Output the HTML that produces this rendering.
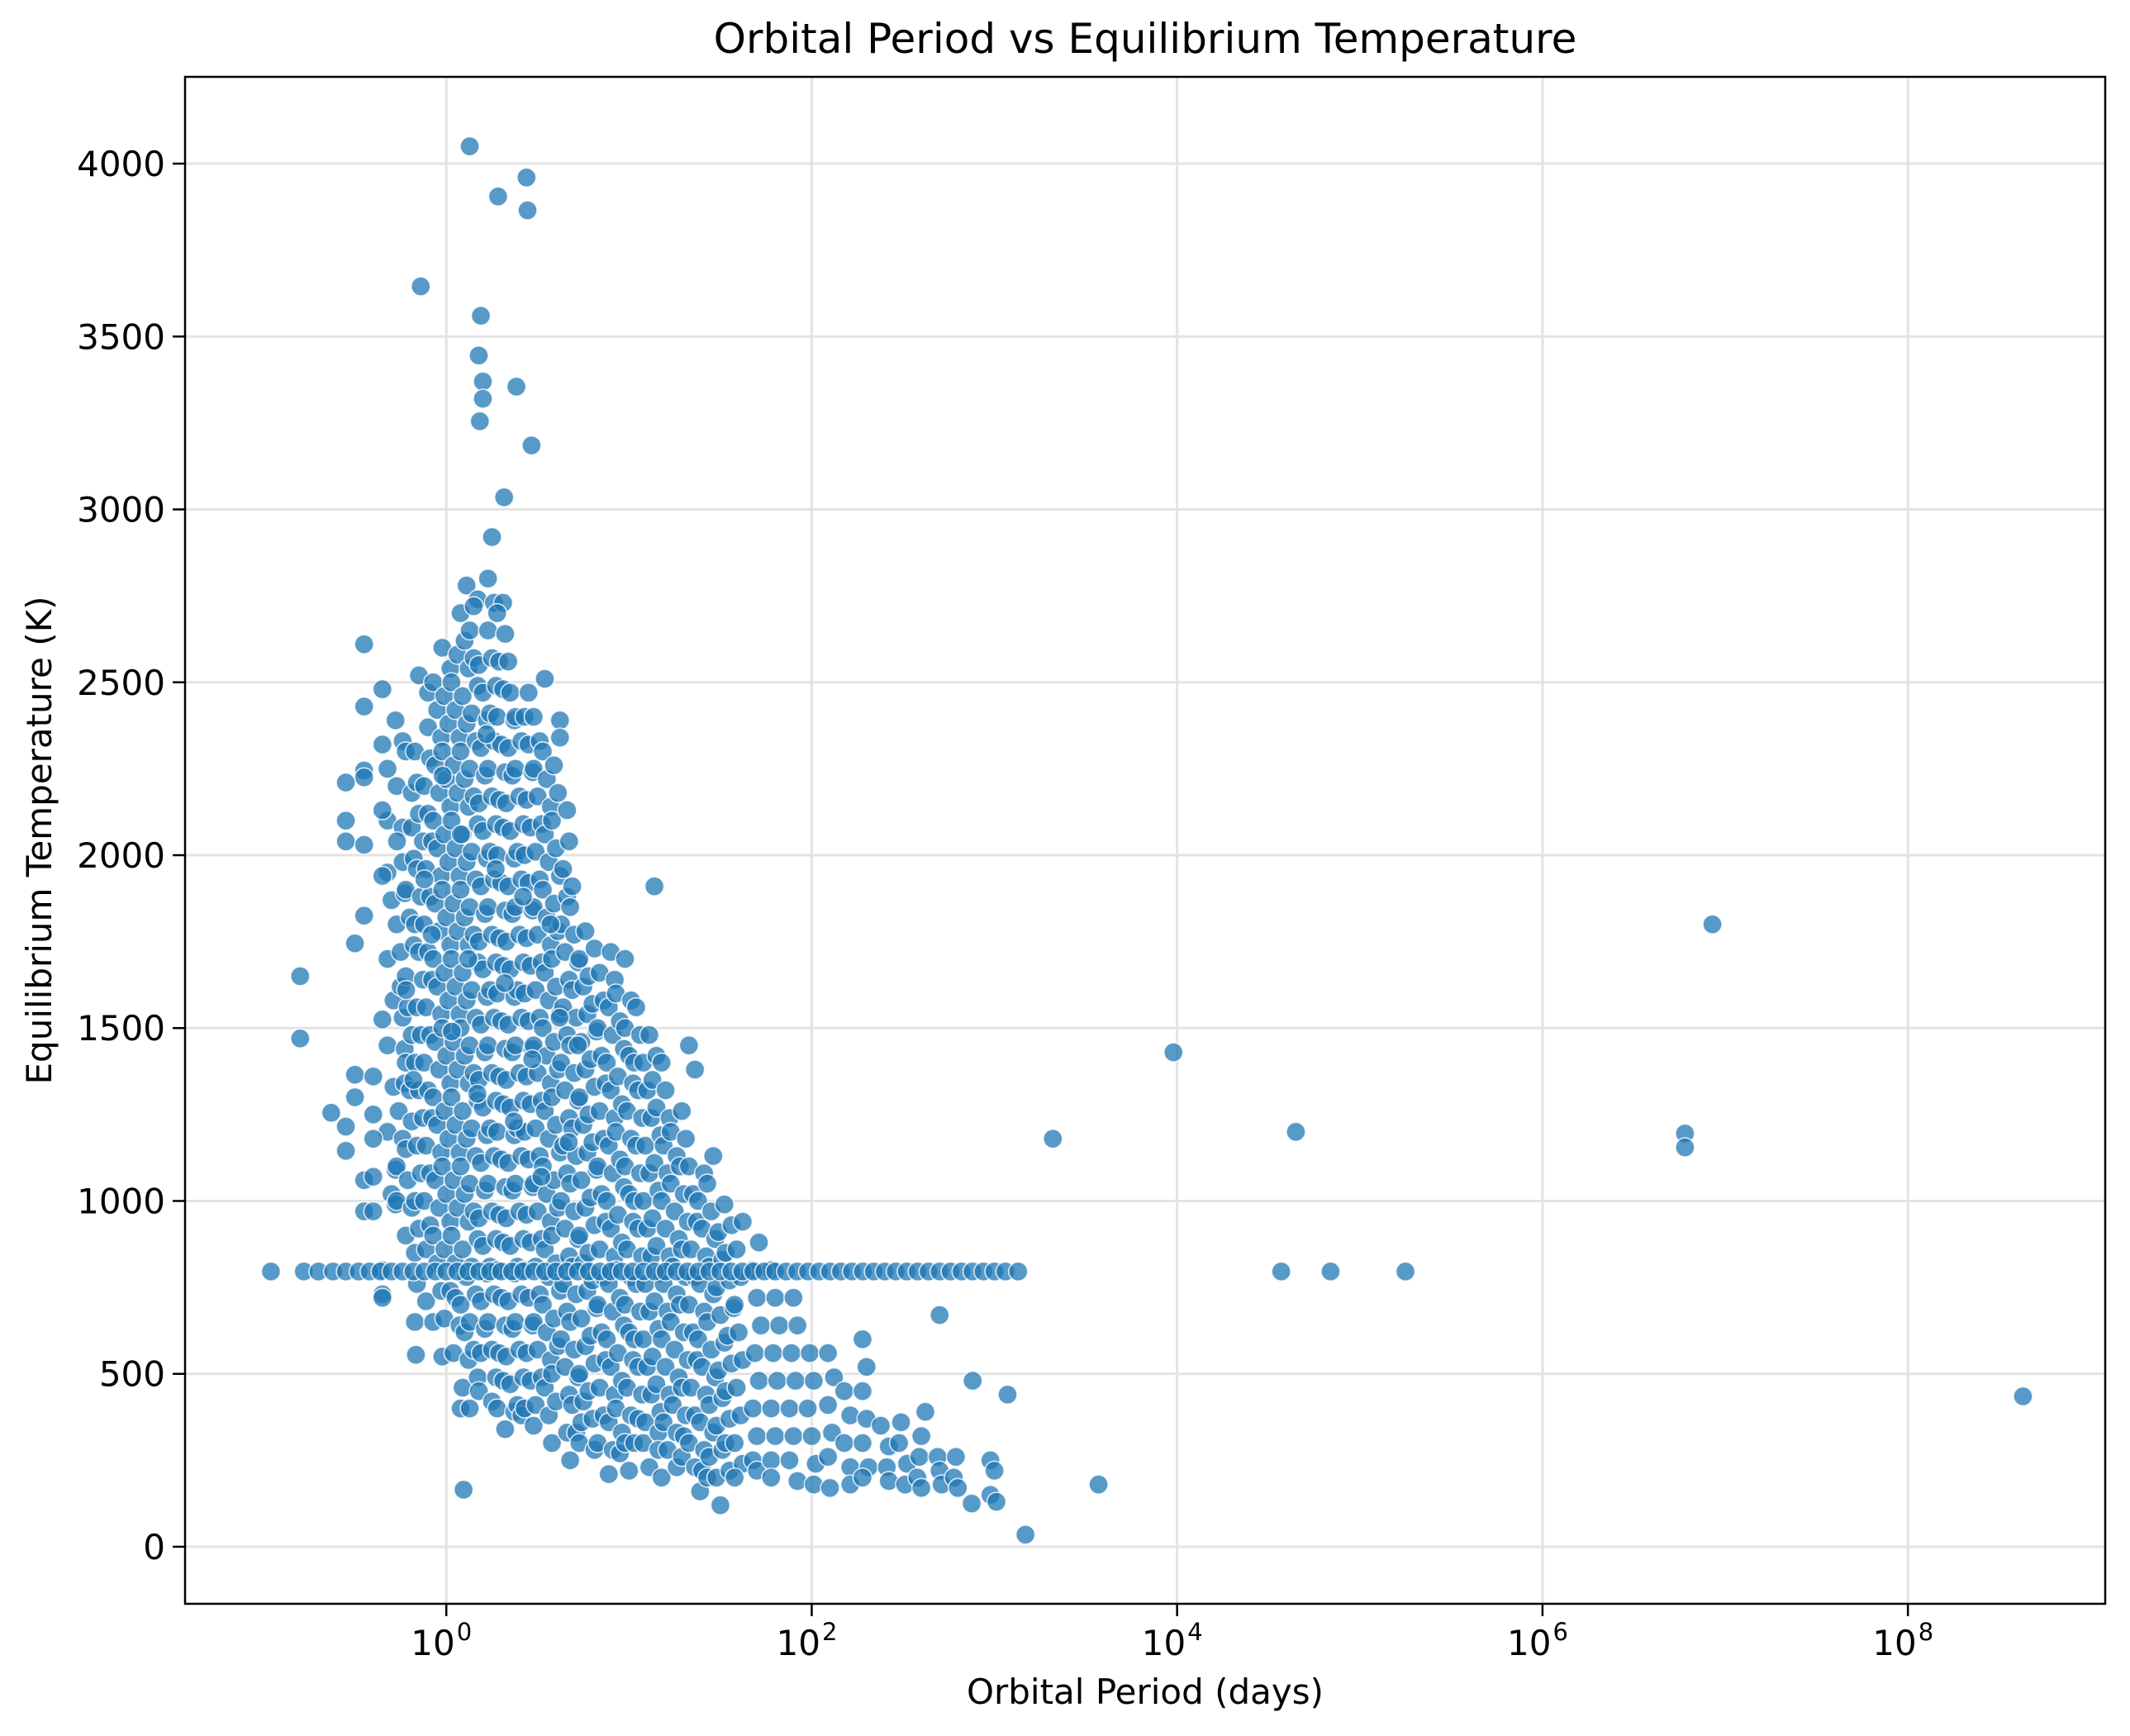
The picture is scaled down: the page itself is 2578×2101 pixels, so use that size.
<!DOCTYPE html>
<html><head><meta charset="utf-8">
<style>
html,body{margin:0;padding:0;background:#fff;}
svg{display:block;}
text{font-family:"DejaVu Sans","Liberation Sans",sans-serif;fill:#000;}
</style></head>
<body>
<svg id="chart" width="2578" height="2101" viewBox="0 0 2578 2101" xmlns="http://www.w3.org/2000/svg">
<rect width="2578" height="2101" fill="#fff"/>
<g id="grid"></g>
<g id="points"></g>
<rect x="224" y="93" width="2324" height="1848" fill="none" stroke="#000" stroke-width="2.5"/>
<g id="ticks"></g>
<text x="1386" y="64" font-size="50" text-anchor="middle">Orbital Period vs Equilibrium Temperature</text>
<text x="1386" y="2062" font-size="42" text-anchor="middle">Orbital Period (days)</text>
<text x="0" y="0" font-size="42" text-anchor="middle" transform="translate(62,1017) rotate(-90)">Equilibrium Temperature (K)</text>
</svg>
<script>
// log10 of orbital period (days) for dense columns
const colLogP = [-0.3,-0.25,-0.2,-0.15,-0.1,-0.05,0,0.05,0.1,0.15,0.2,0.25,0.3,0.35,0.4,0.45,0.5,0.55,0.6,0.65,0.7,0.75,0.8,0.85,0.9,0.95,1.0,1.05,1.1,1.15,1.2,1.25,1.3,1.35,1.4,1.45,1.5,1.55,1.6,1.7,1.8,1.9,2.0,2.1,2.2,2.3,2.4,2.5,2.6,2.7,2.8,2.87,3.0,3.05];
const colTemps = [
[2390,2250,2100,1950,1870,1700,1580,1450,1330,1200,1090,1020,990],
[2330,2200,2080,1980,1890,1800,1720,1620,1530,1440,1340,1260,1180,1100,1000],
[2300,2180,2080,1990,1900,1820,1740,1650,1560,1480,1400,1320,1230,1150,1060,980,900],
[2520,2300,2210,2120,2040,1960,1880,1800,1720,1640,1560,1480,1400,1320,1240,1160,1080,1000,920,850,760,650,555],
[2470,2370,2280,2200,2120,2040,1960,1880,1800,1720,1640,1560,1480,1400,1320,1240,1160,1080,1000,930,860,710],
[2500,2420,2340,2260,2180,2100,2020,1940,1860,1780,1700,1620,1540,1460,1380,1300,1220,1140,1060,980,900,820,740,650],
[2600,2540,2460,2380,2300,2220,2140,2060,1980,1900,1820,1740,1660,1580,1500,1420,1340,1260,1180,1100,1020,940,860,740,660,550],
[2580,2500,2420,2340,2260,2180,2100,2020,1940,1860,1780,1700,1620,1540,1460,1380,1300,1220,1140,1060,980,900,820,720,640,560],
[2780,2700,2620,2540,2460,2380,2300,2220,2140,2060,1980,1900,1820,1740,1660,1580,1500,1420,1340,1260,1180,1100,1020,940,860,780,700,620,540,460,400,165],
[4050,3445,2740,2720,2650,2570,2490,2410,2330,2250,2170,2090,2010,1930,1850,1770,1690,1610,1530,1450,1370,1290,1210,1130,1050,970,890,810,730,650,570,490,400],
[3560,3370,3320,3255,2550,2470,2390,2310,2230,2150,2070,1990,1910,1830,1750,1670,1590,1510,1430,1350,1270,1190,1110,1030,950,870,790,710,630,560,450],
[2920,2800,2730,2650,2570,2490,2410,2330,2250,2170,2090,2010,1930,1850,1770,1690,1610,1530,1450,1370,1290,1210,1130,1050,970,890,810,730,650,570,490,420],
[3905,3035,2730,2700,2640,2560,2480,2400,2320,2240,2160,2080,2000,1920,1840,1760,1680,1600,1520,1440,1360,1280,1200,1120,1040,960,880,800,720,640,560,480,400,340],
[2560,2470,2390,2310,2230,2150,2070,1990,1910,1830,1750,1670,1590,1510,1430,1350,1270,1190,1110,1030,950,870,790,710,630,550,470,390],
[3355,2400,2330,2250,2170,2090,2010,1930,1850,1770,1690,1610,1530,1450,1370,1290,1210,1130,1050,970,890,810,730,650,570,490,410,380],
[3960,3865,3185,2470,2400,2320,2240,2160,2080,2000,1920,1840,1760,1680,1600,1520,1440,1360,1280,1200,1120,1040,960,880,800,720,640,560,480,400],
[2400,2330,2250,2170,2090,2010,1930,1850,1770,1690,1610,1530,1450,1370,1290,1210,1130,1050,970,890,810,730,650,570,490,410,350],
[2510,2300,2220,2140,2060,1980,1900,1820,1740,1660,1580,1500,1420,1340,1260,1180,1100,1020,940,860,780,700,620,540,460,380],
[2390,2340,2260,2180,2100,2020,1940,1860,1780,1700,1620,1540,1460,1380,1300,1220,1140,1060,980,900,820,740,660,580,500,420,300],
[2130,2040,1960,1880,1800,1720,1640,1560,1480,1400,1320,1240,1160,1080,1000,920,840,760,680,600,520,440,330],
[1910,1850,1770,1690,1610,1530,1450,1370,1290,1210,1130,1050,970,890,810,730,650,570,490,410,330,250],
[1780,1700,1620,1540,1460,1380,1300,1220,1140,1060,980,900,820,740,660,580,500,420,360,300],
[1730,1650,1570,1490,1410,1330,1250,1170,1090,1010,930,850,770,690,610,530,450,370,280],
[1660,1580,1500,1420,1340,1260,1180,1100,1020,940,860,780,700,620,540,460,380,300],
[1720,1640,1560,1480,1400,1320,1240,1160,1080,1000,920,840,760,680,600,520,440,360,280,210],
[1600,1520,1440,1360,1280,1200,1120,1040,960,880,800,720,640,560,480,400,330,270],
[1700,1580,1500,1420,1340,1260,1180,1100,1020,940,860,780,700,620,540,460,380,300,220],
[1560,1480,1400,1320,1240,1160,1080,1000,920,840,760,680,600,520,440,370,300],
[1480,1400,1320,1240,1160,1080,1000,920,840,760,680,600,520,440,360,300,230],
[1910,1420,1350,1270,1190,1110,1030,950,870,790,710,630,550,470,390,330,280],
[1400,1320,1240,1160,1080,1000,920,840,760,680,600,520,440,360,280,200],
[1200,1130,1050,970,890,810,730,650,570,490,410,330,230],
[1260,1180,1100,1020,940,860,780,700,620,540,460,380,320,260],
[1450,1380,1100,1020,940,860,780,700,620,540,460,380,300,230],
[1080,1000,920,840,760,680,600,520,440,360,280,220,160],
[1130,1050,970,890,810,730,650,570,490,410,330,260,200],
[990,910,830,750,670,590,510,430,350,280,200,120],
[930,850,770,690,610,530,450,370,300,220],
[940,860,780,700,620,540,460,380,300,240,200],
[880,800,720,640,560,480,400,320,250,220],
[800,720,640,560,480,400,320,250,200],
[720,640,560,480,400,320,250,190],
[560,480,400,320,240,180],
[560,490,410,330,260,170],
[450,380,300,230,180],
[600,520,450,370,300,230,200],
[350,290,230,190],
[360,300,240,180],
[390,320,260,200,170],
[670,260,220,180],
[260,200,170],
[480,125],
[250,220,150,130],
[440]
];
// left-edge sparse points (log10 period, temperature)
const sparseLogP = [-0.8,-0.8,-0.63,-0.55,-0.55,-0.55,-0.55,-0.55,-0.5,-0.5,-0.5,-0.45,-0.45,-0.45,-0.45,-0.45,-0.45,-0.45,-0.45,-0.4,-0.4,-0.4,-0.4,-0.4,-0.35,-0.35,-0.35,-0.35,-0.35,-0.35,-0.35,-0.35,-0.14,3.32,3.57,3.98,4.65,6.78,6.78,6.93,8.63,3.17,-0.27,-0.22,-0.18,-0.12,-0.08,-0.02,0.03,0.08,0.12,0.17,0.22,0.27,0.32,0.37,0.42,0.47,0.52,0.57,0.62,0.67,0.72];
const sparseTemp = [1650,1470,1255,2210,2100,2040,1215,1145,1745,1300,1365,2610,2430,2245,2225,2030,1825,1060,970,1360,1250,1180,970,1070,2480,2320,2130,1940,1525,730,720,800,3645,1180,180,1430,1200,1195,1155,1800,435,35,2040,1610,1350,1930,1770,2230,1490,2060,1700,1310,2350,1960,1630,1230,1880,1410,1070,1800,1530,1170,1450,1000];
// points on the 796 K line
const lineLogP = [-0.96,-0.78,-0.7,-0.62,-0.55,-0.48,-0.42,-0.36,-0.3,-0.24,-0.18,-0.12,-0.06,0,0.06,0.12,0.18,0.24,0.3,0.36,0.42,0.48,0.54,0.6,0.66,0.72,0.78,0.84,0.9,0.96,1.02,1.08,1.14,1.2,1.26,1.32,1.38,1.44,1.5,1.56,1.62,1.68,1.74,1.8,1.86,1.92,1.98,2.04,2.1,2.16,2.22,2.28,2.34,2.4,2.46,2.52,2.58,2.64,2.7,2.76,2.82,2.88,2.94,3.0,3.06,3.13,4.57,4.84,5.25];
const lineTemp = 796;
const xTickExp = [0,2,4,6,8];
const yTicks = [0,500,1000,1500,2000,2500,3000,3500,4000];

const L=224,R=2548,T=93,B=1941;
const xMin=-1.43,xMax=9.08,yMin=-165,yMax=4251;
function xs(lg){return L+(lg-xMin)/(xMax-xMin)*(R-L);}
function ys(v){return B-(v-yMin)/(yMax-yMin)*(B-T);}
const NS='http://www.w3.org/2000/svg';
function mk(tag,attrs,parent){const e=document.createElementNS(NS,tag);for(const k in attrs)e.setAttribute(k,attrs[k]);parent.appendChild(e);return e;}
const grid=document.getElementById('grid'),pts=document.getElementById('points'),ticks=document.getElementById('ticks');
xTickExp.forEach(p=>{
  const x=xs(p);
  const g=mk('line',{x1:x,x2:x,y1:T,y2:B,stroke:'#e3e3e3','stroke-width':3},grid);
  
  
  const t=mk('line',{x1:x,x2:x,y1:B,y2:B+15,stroke:'#000','stroke-width':2.5},ticks);
  
  
  const tx=mk('text',{x:x-6,y:B+62,'font-size':42,'text-anchor':'middle'},ticks);
  
  
  tx.textContent='10';
  const sup=mk('tspan',{dx:2,dy:-18,'font-size':29},tx);sup.textContent=String(p);
});
yTicks.forEach(v=>{
  const y=ys(v);
  const g=mk('line',{x1:L,x2:R,y1:y,y2:y,stroke:'#e3e3e3','stroke-width':3},grid);
  
  
  const t=mk('line',{x1:L-15,x2:L,y1:y,y2:y,stroke:'#000','stroke-width':2.5},ticks);
  
  
  const tx=mk('text',{x:L-24,y:y+15,'font-size':42,'text-anchor':'end'},ticks);
  
  
  tx.textContent=String(v);
});
function dot(lg,v){
  const c=mk('circle',{cx:xs(lg),cy:ys(v),r:11.5,fill:'#1f77b4','fill-opacity':0.75,stroke:'#fff','stroke-width':1.6,'stroke-opacity':0.8},pts);
  
  
}
colLogP.forEach((lg,i)=>colTemps[i].forEach(v=>dot(lg+((v/10)%5-2)*0.011,v)));
sparseLogP.forEach((lg,i)=>dot(lg,sparseTemp[i]));
lineLogP.forEach(lg=>dot(lg,lineTemp));
</script>
</body></html>
